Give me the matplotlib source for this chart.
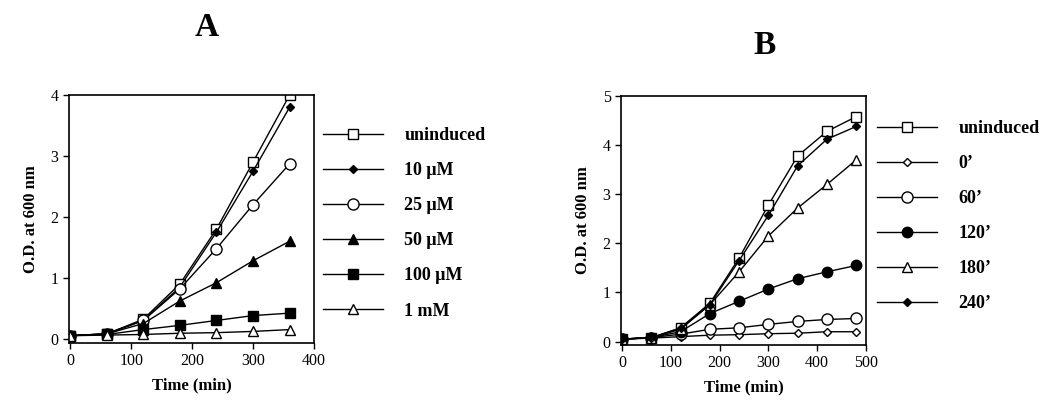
import matplotlib.pyplot as plt

plt.rcParams['font.family'] = ['Liberation Serif', 'DejaVu Serif']

# Panel A: inducer concentration
time_a = [0, 60, 120, 180, 240, 300, 360]
labels_a = ['uninduced', '10 \u03bcM', '25 \u03bcM', '50 \u03bcM', '100 \u03bcM', '1 mM']
uninduced_a = [0.05, 0.08, 0.32, 0.90, 1.80, 2.90, 4.00]
um10_a = [0.05, 0.08, 0.30, 0.85, 1.75, 2.75, 3.80]
um25_a = [0.05, 0.08, 0.30, 0.82, 1.48, 2.20, 2.87]
um50_a = [0.05, 0.08, 0.25, 0.62, 0.92, 1.28, 1.60]
um100_a = [0.05, 0.07, 0.15, 0.22, 0.30, 0.38, 0.42]
mm1_a = [0.05, 0.06, 0.07, 0.09, 0.10, 0.12, 0.15]

# Panel B: time of induction
time_b = [0, 60, 120, 180, 240, 300, 360, 420, 480]
labels_b = ['uninduced', '0\u2019', '60\u2019', '120\u2019', '180\u2019', '240\u2019']
uninduced_b = [0.05, 0.08, 0.28, 0.78, 1.70, 2.78, 3.78, 4.28, 4.58]
t0_b = [0.05, 0.07, 0.10, 0.13, 0.14, 0.16, 0.17, 0.20, 0.20]
t60_b = [0.05, 0.08, 0.15, 0.25, 0.28, 0.35, 0.41, 0.45, 0.47]
t120_b = [0.05, 0.08, 0.20, 0.57, 0.82, 1.07, 1.28, 1.42, 1.55]
t180_b = [0.05, 0.08, 0.25, 0.75, 1.42, 2.15, 2.72, 3.20, 3.70]
t240_b = [0.05, 0.08, 0.27, 0.75, 1.65, 2.57, 3.58, 4.12, 4.38]

styles_a = [('s', 'white', 7.5), ('D', 'black', 4.5), ('o', 'white', 8),
            ('^', 'black', 6.5), ('s', 'black', 6.5), ('^', 'white', 6.5)]
styles_b = [('s', 'white', 7.5), ('D', 'white', 4.5), ('o', 'white', 8),
            ('o', 'black', 7.5), ('^', 'white', 7), ('D', 'black', 4.5)]

W, H = 1050, 405
fig = plt.figure(figsize=(10.5, 4.05), dpi=100)


def panel(rect, times, series, labels, styles, xmax, ymax, title, title_xy, leg_xy):
    x0, y0, x1, y1 = rect
    ax = fig.add_axes([x0 / W, 1 - y1 / H, (x1 - x0) / W, (y1 - y0) / H])
    for ys, lab, (m, fc, ms) in zip(series, labels, styles):
        ax.plot(times, ys, color='black', lw=1, marker=m, markerfacecolor=fc,
                markeredgecolor='black', markersize=ms, label=lab)
    ax.set_xlim(-2, xmax)
    ax.set_ylim(-0.07, ymax)
    ax.set_xticks(range(0, xmax + 1, 100))
    ax.set_yticks(range(0, int(ymax) + 1))
    ax.tick_params(direction='out', length=4, labelsize=11.5, width=1,
                   top=False, right=False)
    for s in ax.spines.values():
        s.set_linewidth(1.2)
    ax.set_xlabel('Time (min)', fontsize=12, fontweight='bold', labelpad=6)
    ax.set_ylabel('O.D. at 600 nm', fontsize=12, fontweight='bold', labelpad=8)
    fig.text(title_xy[0] / W, 1 - title_xy[1] / H, title, fontsize=24,
             fontweight='bold', ha='center', va='center')
    ax.legend(loc='upper left', bbox_to_anchor=(leg_xy[0] / W, 1 - leg_xy[1] / H),
              bbox_transform=fig.transFigure, frameon=False, handlelength=3.3,
              handletextpad=1.2, labelspacing=1.0, borderaxespad=0,
              prop={'weight': 'bold', 'size': 13})
    return ax


panel((69, 95, 314, 343), time_a,
      [uninduced_a, um10_a, um25_a, um50_a, um100_a, mm1_a],
      labels_a, styles_a, 400, 4.0, 'A', (207, 27), (316, 120))
panel((621, 96, 866, 345), time_b,
      [uninduced_b, t0_b, t60_b, t120_b, t180_b, t240_b],
      labels_b, styles_b, 500, 5.0, 'B', (765, 45), (870, 113))

fig.savefig('out.png', dpi=100)
